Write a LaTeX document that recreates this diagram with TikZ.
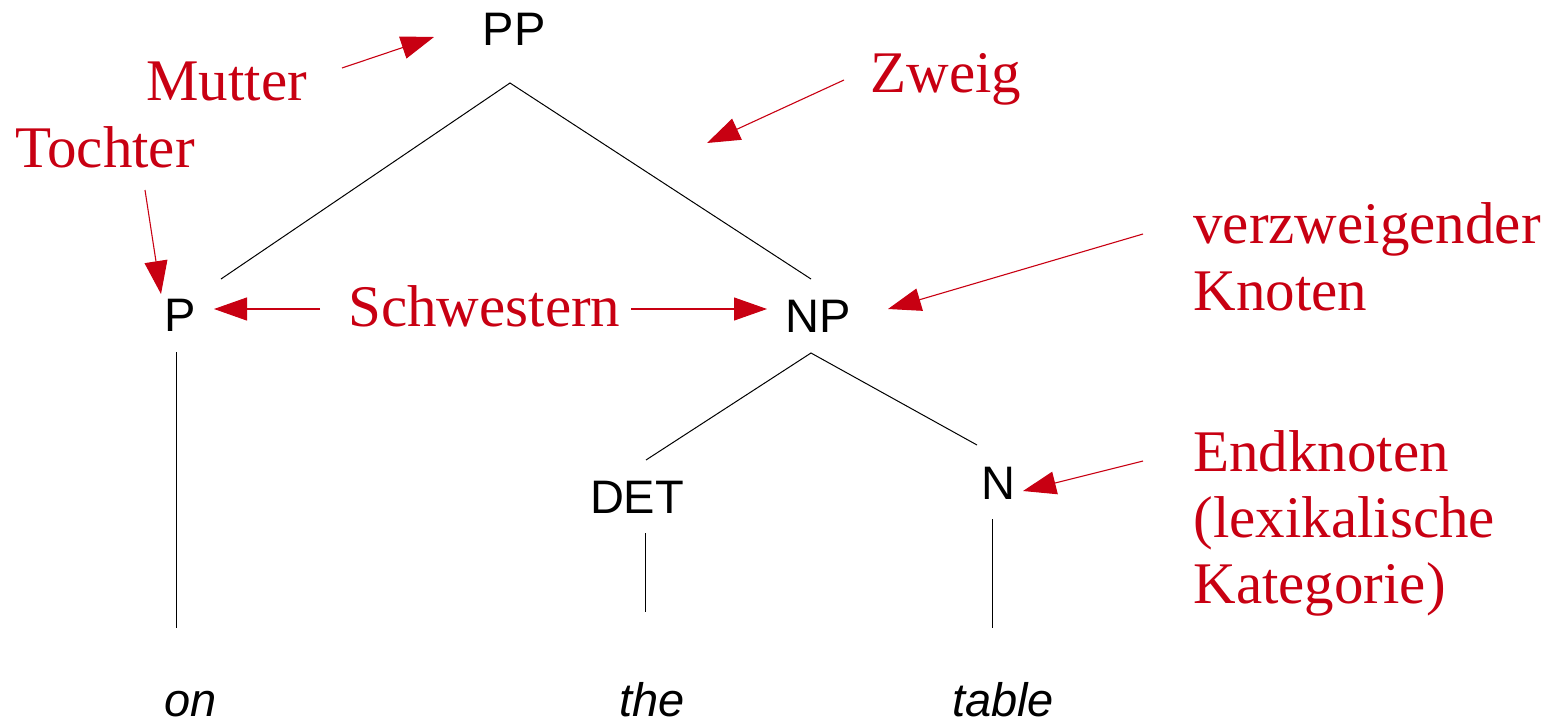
\documentclass[tikz,border=0pt]{standalone}
\usepackage{fontspec}
\setmainfont{Liberation Serif}
\newfontfamily\arialfont{Liberation Sans}
\usetikzlibrary{arrows.meta}
\definecolor{myred}{RGB}{200,0,18}
\tikzset{
  cat/.style={font=\arialfont\fontsize{23.5}{28}\selectfont, inner sep=0pt, anchor=base},
  word/.style={font=\arialfont\itshape\fontsize{23.5}{28}\selectfont, inner sep=0pt, anchor=base},
  lbl/.style={text=myred, font=\fontsize{29.5}{33}\selectfont, inner sep=0pt, anchor=base west},
  redarrow/.style={draw=myred, line width=0.55pt, -{Triangle[length=16.5pt,width=11.5pt]}},
  branch/.style={draw=black, line width=0.5pt}
}
\begin{document}
\begin{tikzpicture}[x=0.5pt,y=-0.5pt]
\useasboundingbox (0,0) rectangle (1560,723);
% categories
\node[cat] (PP) at (514,45) {PP};
\node[cat] (P) at (180,331) {P};
\node[cat] (NP) at (818,332) {NP};
\node[cat] (DET) at (637,513) {DET};
\node[cat] (N) at (998,499) {N};
% words
\node[word] (on) at (191,716) {on};
\node[word] (the) at (652,716) {the};
\node[word] (table) at (1003,716) {table};
% branch points
\coordinate (ppb) at (510,83);
\coordinate (ppl) at (221,279);
\coordinate (ppr) at (811,279);
\coordinate (npb) at (811,353);
\coordinate (npl) at (646,460);
\coordinate (npr) at (977,445);
\coordinate (pt) at (176,352);
\coordinate (pb) at (176,628);
\coordinate (dt) at (645,533);
\coordinate (db) at (645,612);
\coordinate (nt) at (992,519);
\coordinate (nb) at (992,628);
\draw[branch] (ppl) -- (ppb) -- (ppr);
\draw[branch] (npl) -- (npb) -- (npr);
\draw[branch] (pt) -- (pb);
\draw[branch] (dt) -- (db);
\draw[branch] (nt) -- (nb);
% labels
\node[lbl] (mutter) at (146,100) {Mutter};
\node[lbl] (tochter) at (15,167) {Tochter};
\node[lbl] (zweig) at (870,92) {Zweig};
\node[lbl] (schw) at (348,326) {Schwestern};
\node[lbl] (verz1) at (1193,243) {verzweigender};
\node[lbl] (verz2) at (1193,310) {Knoten};
\node[lbl] (end1) at (1193,471) {Endknoten};
\node[lbl] (end2) at (1193,537) {(lexikalische};
\node[lbl] (end3) at (1193,603) {Kategorie)};
% arrow ends
\coordinate (ms) at (342,68);  \coordinate (me) at (434,37);
\coordinate (ts) at (145,190); \coordinate (te) at (161,294);
\coordinate (zs) at (844,80);  \coordinate (ze) at (707,143);
\coordinate (sls) at (320,309); \coordinate (sle) at (214,309);
\coordinate (srs) at (631,309); \coordinate (sre) at (767,309);
\coordinate (vs) at (1143,234); \coordinate (ve) at (888,309);
\coordinate (es) at (1143,461); \coordinate (ee) at (1023,491);
\draw[redarrow] (ms) -- (me);
\draw[redarrow] (ts) -- (te);
\draw[redarrow] (zs) -- (ze);
\draw[redarrow] (sls) -- (sle);
\draw[redarrow] (srs) -- (sre);
\draw[redarrow] (vs) -- (ve);
\draw[redarrow] (es) -- (ee);
\end{tikzpicture}
\end{document}
